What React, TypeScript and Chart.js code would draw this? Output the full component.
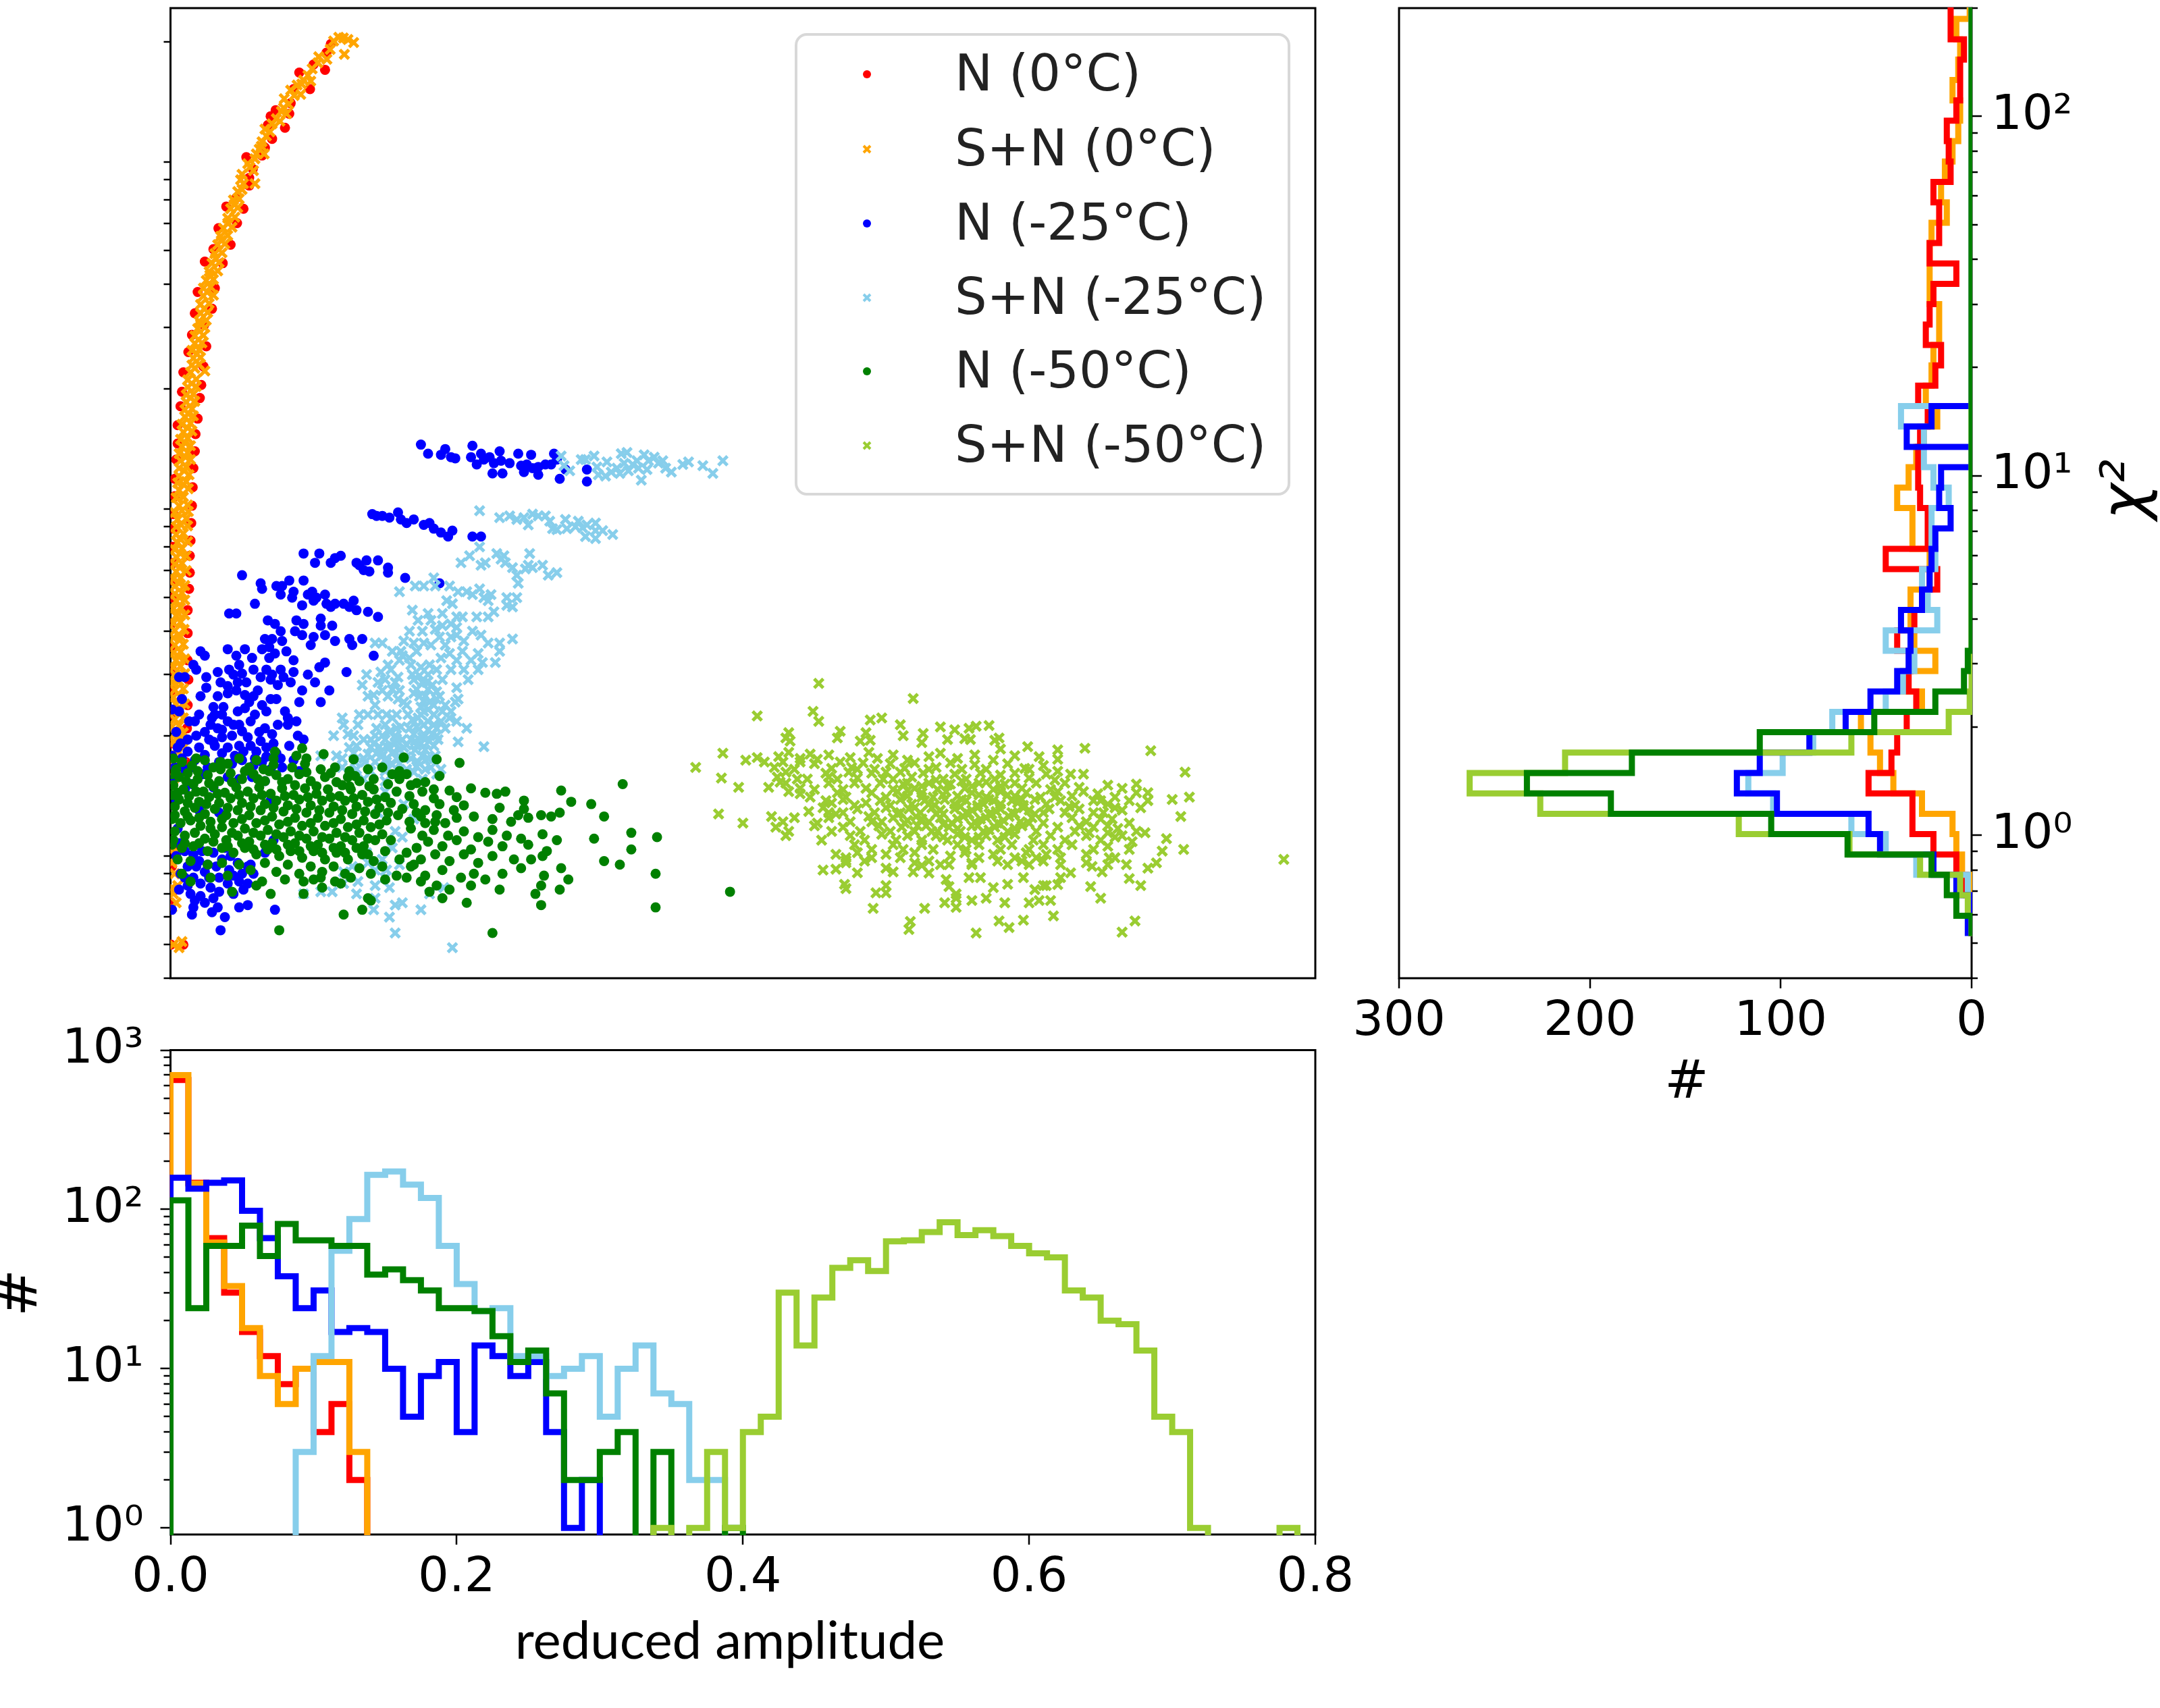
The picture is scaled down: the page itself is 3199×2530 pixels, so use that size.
import React, { useEffect, useRef } from 'react';
import { Chart, registerables } from 'chart.js';

Chart.register(...registerables);

const FONT = 'DejaVu Sans';
const RED = '#ff0000', ORANGE = '#ffa500', BLUE = '#0000ff', SKY = '#87ceeb', GREEN = '#008000', LIME = '#9acd32';
const seriesLabels = ['N (0°C)', 'S+N (0°C)', 'N (-25°C)', 'S+N (-25°C)', 'N (-50°C)', 'S+N (-50°C)'];

// ---------- scatter: [reduced amplitude, chi2] ----------
const redPoints = [[.0003,.5],[.009,.5],[.0005,.66],[.004,.72],[.001,.84],[.003,.93],[.001,1.6],[.0105,1.68],[.0005,1.9],[.0115,2.1],[.001,2.3],[.012,2.45],[.0005,2.7],[.0125,2.9],[.001,3.1],[.012,3.3],[.0008,3.6],[.012,3.95],[.0005,4.2],[.012,4.6],[.001,5],[.013,5.3],[.001,5.6],[.0135,5.9],[.002,6.3],[.0135,6.6],[.0015,7],[.014,7.3],[.002,7.9],[.0145,8.2],[.002,8.7],[.015,9.2],[.003,9.8],[.0155,10.4],[.003,11],[.016,11.8],[.004,12.5],[.017,13.2],[.005,13.9],[.0175,14.8],[.005,15.7],[.019,16.4],[.007,17.8],[.0205,18.8],[.008,19.6],[.0215,20.5],[.009,22.3],[.023,23.2],[.0125,25.5],[.025,26.5],[.015,28.6],[.0235,30.5],[.017,33],[.029,34],[.019,38],[.031,39],[.024,46.5],[.0365,46],[.03,50.5],[.042,52],[.0335,58],[.0465,60],[.039,67],[.051,66],[.046,71],[.055,77],[.055,81],[.0575,86],[.053,93],[.064,94],[.066,99],[.071,105],[.068,115],[.08,113],[.07,122],[.083,124],[.084,133],[.0735,127],[.086,146],[.0975,146],[.09,163],[.108,166],[.1,172],[.109,186],[.112,197]];
const orangePoints = [[.002,.5],[.006,.49],[.008,.51],[.001,.64],[.004,.66],[.002,.7],[.001,.73],[.005,.74],[.003,.8],[.001,.86],[.004,.9],[.002,.95],[.002,1.5],[.006,1.52],[.003,1.58],[.008,1.6],[.001,1.66],[.006,1.68],[.002,1.74],[.008,1.75],[.004,1.83],[.009,1.85],[.002,1.92],[.007,1.94],[.003,2.02],[.009,2.04],[.001,2.12],[.006,2.14],[.003,2.23],[.009,2.25],[.002,2.34],[.007,2.36],[.004,2.46],[.01,2.47],[.002,2.58],[.007,2.6],[.003,2.71],[.009,2.73],[.001,2.85],[.006,2.87],[.003,3],[.01,3.02],[.002,3.15],[.007,3.17],[.004,3.3],[.01,3.33],[.002,3.47],[.007,3.49],[.003,3.65],[.009,3.67],[.002,3.83],[.007,3.86],[.003,4.02],[.0095,4.05],[.002,4.22],[.007,4.25],[.004,4.43],[.01,4.46],[.002,4.65],[.007,4.68],[.004,4.89],[.01,4.92],[.003,5.13],[.008,5.16],[.003,5.39],[.01,5.42],[.002,5.66],[.007,5.7],[.004,5.94],[.011,5.98],[.003,6.24],[.008,6.28],[.004,6.55],[.011,6.6],[.003,6.88],[.008,6.92],[.005,7.2],[.012,7.25],[.004,7.6],[.009,7.65],[.004,8],[.012,8.05],[.005,8.4],[.011,8.45],[.003,8.8],[.0125,8.85],[.006,9.2],[.012,9.25],[.004,9.7],[.009,9.75],[.006,10.2],[.0125,10.3],[.005,10.7],[.011,10.8],[.006,11.2],[.013,11.3],[.006,11.8],[.011,11.9],[.007,12.4],[.014,12.5],[.006,13],[.012,13.1],[.008,13.6],[.014,13.7],[.007,14.3],[.012,14.4],[.009,15],[.015,15.1],[.008,15.8],[.014,15.9],[.01,16.6],[.016,16.7],[.01,17.4],[.015,17.5],[.011,18.3],[.017,18.4],[.011,19.2],[.016,19.3],[.012,20.2],[.018,20.3],[.012,21.2],[.018,21.3],[.014,22.3],[.024,22.5],[.015,23.4],[.02,23.5],[.016,24.5],[.021,24.6],[.015,25.8],[.02,25.9],[.017,27],[.022,27.1],[.017,28.4],[.023,28.5],[.019,29.8],[.024,30],[.02,31.3],[.025,31.5],[.021,33],[.026,33.2],[.021,35],[.027,35.2],[.023,37],[.03,37.2],[.023,39],[.028,39.3],[.025,41],[.03,41.3],[.027,43.5],[.033,43.7],[.029,46],[.034,46.2],[.031,49],[.036,49.3],[.033,52],[.038,52.3],[.035,55],[.04,55.3],[.037,58],[.043,58.4],[.04,62],[.045,62.4],[.042,66],[.047,66.5],[.044,70],[.048,70.5],[.047,74],[.05,75],[.051,78],[.059,78],[.05,83],[.058,85],[.054,89],[.059,92],[.062,98],[.06,95],[.064,103],[.067,107],[.066,112],[.071,116],[.074,120],[.079,129],[.081,124],[.084,145],[.0917,151],[.091,141],[.093,155],[.096,160],[.099,167],[.103,174],[.1036,181],[.1093,178],[.1116,190],[.114,201],[.1215,184],[.1176,206],[.1208,205],[.124,203],[.128,199],
[.0045,1.95],[.0055,2.4],[.0045,2.9],[.005,3.4],[.0055,3.9],[.0055,4.5],[.0065,5],[.006,5.5],[.0065,6.1],[.007,6.7],[.0065,7.4],[.0075,8.1],[.008,8.9],[.0085,9.8],[.009,10.6],[.0095,11.6],[.0105,12.7],[.01,14],[.012,15.4],[.0125,16.9],[.014,18.8],[.0148,20.7],[.017,22.9],[.0185,25.2],[.0195,27.7],[.021,30.7],[.0235,34],[.0255,38],[.0275,42.5],[.0315,47.5],[.0355,53.5],[.04,60],[.0445,68],[.049,80],[.0555,87],[.0635,100],[.0655,95],[.0695,110],[.0765,118],[.0775,126],[.0825,132],[.0795,137],[.0865,140],[.0885,150],[.098,154]];
const bluePoints = [[.175,13.8],[.18,13],[.189,12.9],[.192,13.4],[.196,12.7],[.199,12.6],[.211,13.7],[.21,12.7],[.214,12.1],[.217,13],[.219,12.5],[.223,12.7],[.226,12.2],[.23,13.2],[.231,12.4],[.237,12.2],[.243,13],[.245,12],[.249,12.1],[.252,12.9],[.253,11.8],[.257,11.9],[.257,11.3],[.268,13],[.262,12.1],[.266,12.1],[.27,12.5],[.225,11.4],[.232,11.4],[.247,11.5],[.272,11],[.291,11.7],[.291,10.8],[.276,11.7],
[.141,8.7],[.144,8.6],[.148,8.6],[.153,8.5],[.159,8.8],[.161,8.4],[.165,8.2],[.17,8.4],[.177,8.1],[.181,8.2],[.184,7.9],[.189,7.7],[.194,7.5],[.197,7.8],[.211,7.5],[.217,7.5],
[.093,6.7],[.104,6.7],[.101,6.3],[.112,6.3],[.115,6.5],[.119,6.6],[.13,6.3],[.132,6.2],[.137,6.4],[.135,6],[.139,5.95],[.145,6.4],[.152,6.1],[.152,5.9],[.164,5.7],[.188,5.5],
[.05,5.8],[.063,5.5],[.064,5.3],[.074,5.4],[.078,5.4],[.077,5.1],[.083,5.6],[.086,5.2],[.085,5],[.093,5.6],[.096,5.1],[.099,5.2],[.102,5],[.1,4.9],[.108,5.1],[.109,4.8],[.115,4.8],[.112,4.7],[.121,4.8],[.128,4.9],[.125,4.7],[.13,4.6],[.138,4.55],[.145,4.4],[.092,4.75],[.059,4.8],[.041,4.5],[.046,4.5],
[.068,4.3],[.073,4.2],[.077,4],[.088,4.3],[.093,4.2],[.087,4],[.092,3.9],[.1,3.85],[.098,3.65],[.105,4.35],[.105,4.15],[.113,4.15],[.108,3.9],[.115,3.75],[.125,3.8],[.134,3.8],[.127,3.65],[.142,3.4],
[.066,3.8],[.071,3.8],[.078,3.75],[.064,3.55],[.069,3.6],[.073,3.45],[.081,3.5],[.069,3.35],[.04,3.55],[.021,3.5],[.024,3.4],[.016,3.2],[.018,3.1],[.025,2.95],[.033,3.05],[.041,3.1],[.046,3.4],[.048,3.2],[.044,3],[.058,3.1],[.067,3.1],[.071,3],[.077,3.1],[.086,3.3],[.086,3.05],[.079,2.95],[.07,2.9],[.047,2.85],[.05,3.02],[.104,3.15],[.108,3.25],[.123,3.05],[.101,2.85],[.111,2.7],[.092,2.7],[.09,2.5],[.105,2.5],[.061,2.7],[.006,2.95],[.01,2.95],[.075,2.8],[.046,2.7],[.04,2.78],[.052,2.62],
[.021,2.6],[.033,2.6],[.04,2.65],[.055,2.5],[.064,2.45],[.07,2.55],[.008,2.55],[.006,2.35],[.001,2.38],[.02,2.3],[.031,2.3],[.036,2.3],[.047,2.35],[.052,2.4],[.059,2.3],[.067,2.35],[.013,2.2],[.017,2.2],[.028,2.15],[.033,2.1],[.04,2.2],[.048,2.15],[.066,2.1],[.075,2.15],[.082,2.15],[.088,2.2],[.082,2.25],[.089,2],[.093,1.95],[.012,1.95],[.027,1.95],[.036,1.98],[.043,2],[.054,1.98],[.063,1.93],[.083,1.87],[.077,1.72],[.02,1.85],[.031,1.87],[.04,1.85],[.048,1.87],[.056,1.87],[.024,1.76],[.036,1.78],[.045,1.75],[.059,1.72],[.012,1.8],[.051,1.8],[.03,1.92],[.06,1.8],[.008,1.72],[.017,1.7],[.067,1.74],[.074,1.78],[.086,1.7],[.001,1.75],[.003,1.62],[.01,1.6],[.026,1.62],[.043,1.66],[.058,1.64],[.07,1.6],[.09,1.58],
[.002,1.5],[.015,1.45],[.03,1.42],[.048,1.5],[.066,1.48],[.004,1.3],[.02,1.22],[.034,1.2],[.07,1.3],[.005,1.08],[.01,.93],[.016,.91],[.012,.84],[.02,.87],[.024,.81],[.032,.84],[.036,.88],[.041,.82],[.047,.86],[.054,.84],[.044,.79],[.016,.78],[.012,.74],[.021,.75],[.028,.73],[.04,.75],[.048,.76],[.054,.75],[.056,.85],[.017,.67],[.024,.66],[.016,.64],[.048,.64],[.054,.65],[.033,.64],[.029,.62],[.015,.61],[.038,.6],[.073,.63],[.035,.55],[.001,.63],[.027,.78],[.034,.71],[.044,.7],[.014,.7],[.007,.8],[.004,.9],[.058,.8],[.05,.8],[.022,.93],[.03,.92],[.042,.9],[.006,.98],[.066,.92],[.072,1.0],
[.029,2.25],[.037,2.42],[.044,2.15],[.056,2.2],[.062,2.05],[.071,2.02],[.024,2.05],[.018,2],[.036,2.08],[.05,2.06],[.058,2.6],[.03,2.42],[.025,2.75],[.035,2.85],[.053,2.85],[.063,2.95],[.057,3.35],[.052,3.55],[.084,2.85],[.096,3],[.074,2.55],[.08,2.35],[.015,1.62],[.034,1.68],[.05,1.7],[.064,1.68],[.078,1.62],[.023,1.55],[.04,1.52],[.057,1.52],[.01,1.4],[.004,2.05],[.007,1.9],[.005,1.85],[.067,1.85],[.072,1.9],[.038,.95],[.026,.85],[.018,.84],[.01,.78],[.034,.78],[.051,.72],[.006,.72],[.021,.69],[.03,.68]];
const skyPoints = [[.273,12.8],[.275,12],[.279,11.6],[.287,12.5],[.29,12.5],[.296,12.8],[.298,11.9],[.305,12.3],[.299,11.3],[.304,11.2],[.312,11.8],[.315,13],[.319,13.1],[.314,11.4],[.32,11.6],[.326,12.4],[.327,11.8],[.329,10.9],[.331,12.9],[.334,12.4],[.338,12.7],[.341,12.2],[.344,12.4],[.346,11.8],[.35,11.5],[.358,12.1],[.362,12.3],[.372,12],[.379,11.4],[.386,12.4],[.317,12.2],[.308,11.5],[.323,12.1],[.333,11.7],
[.216,8.9],[.23,8.5],[.237,8.6],[.242,8.4],[.247,8.5],[.25,8.1],[.253,8.7],[.257,8.6],[.262,8.6],[.265,8.3],[.267,7.9],[.276,8.4],[.277,7.9],[.283,8],[.285,8.3],[.291,8.1],[.297,8.2],[.297,7.8],[.29,7.5],[.297,7.4],[.302,7.8],[.309,7.6],[.27,7.85],[.288,7.95],
[.216,7],[.209,6.6],[.203,6.3],[.217,6.2],[.22,6.3],[.228,6.7],[.233,6.6],[.234,6.3],[.239,6.1],[.242,5.8],[.243,5.5],[.251,6.7],[.25,6.2],[.253,6.1],[.26,6.2],[.264,5.8],[.27,5.9],[.231,6.45],[.248,6.05],
[.184,5.7],[.171,5.4],[.177,5.4],[.185,5.4],[.195,5.4],[.16,5.2],[.201,5.2],[.207,5.2],[.211,5.1],[.216,5.3],[.219,5],[.222,4.9],[.224,5.1],[.235,5],[.242,5],[.193,4.9],[.197,4.8],[.235,4.75],[.239,4.7],[.169,4.6],[.18,4.5],[.19,4.5],[.226,4.55],[.222,4.4],[.214,4.4],[.2,4.4],[.204,4.4],[.196,4.2],[.2,4.1],[.173,4.3],[.182,4.3],[.176,4],[.167,4],[.211,4],[.217,3.9],[.222,3.7],[.23,3.7],[.239,3.8],[.188,3.85],[.196,3.85],[.192,3.65],[.143,3.7],[.148,3.7],[.163,3.75],[.17,3.7],[.177,3.7],[.182,3.65],[.155,3.5],[.161,3.5],[.195,3.45],[.204,3.5],[.215,3.45],[.23,3.5],[.218,3.25],[.227,3.25],[.167,3.35],[.181,3.2],[.189,3.35],[.196,3.1],[.205,3.1],[.215,3.1],[.208,2.9],[.154,3.1],[.159,2.95],[.169,3],[.176,2.85],[.137,3],[.15,2.9],[.157,2.85],[.2,2.75],[.138,2.6],[.148,2.7],[.159,2.55],[.163,2.5],[.174,2.6],[.181,2.5],[.188,2.6],[.199,2.5],[.201,2.55],[.177,2.35],[.184,2.3],[.19,2.35],[.196,2.35],[.132,2.3],[.138,2.3],[.145,2.3],[.151,2.3],[.158,2.3],[.166,2.3],[.12,2.25],[.121,2.15],[.131,2.15],[.144,2.1],[.153,2.05],[.158,2.1],[.167,2.1],[.177,2.15],[.184,2.15],[.192,2.1],[.2,2.2],[.207,2.1],[.114,2],[.128,2],[.14,1.95],[.148,2],[.157,2],[.162,1.95],[.171,1.93],[.178,2],[.186,2],[.201,1.92],[.13,1.87],[.138,1.77],[.146,1.86],[.151,1.86],[.16,1.82],[.171,1.82],[.178,1.82],[.184,1.87],[.219,1.86],[.105,1.75],[.116,1.75],[.135,1.72],[.143,1.68],[.151,1.68],[.16,1.66],[.173,1.68],[.18,1.72],[.189,1.6],[.184,2.45],[.175,2.42],[.18,2.2],[.187,1.95],[.155,1.78],[.165,1.74],[.176,1.75],[.148,1.75],[.14,1.85],[.15,1.95],[.165,1.88],[.175,1.9],[.12,1.62],[.13,1.6],[.14,1.58],[.15,1.58],[.16,1.55],[.17,1.57],[.178,1.6],[.186,1.55],[.155,2.25],[.165,2.45],[.17,2.65],[.18,2.72],[.17,2.9],[.19,2.9],[.16,3.3],[.18,3],
[.15,1.38],[.163,1.27],[.157,1.06],[.162,1.02],[.145,1.2],[.17,1.15],[.127,.84],[.121,.81],[.138,.86],[.148,.88],[.143,.82],[.151,.82],[.131,.76],[.143,.74],[.153,.73],[.105,.71],[.113,.71],[.093,.7],[.13,.7],[.143,.68],[.142,.63],[.157,.65],[.162,.66],[.153,.6],[.175,.63],[.157,.54],[.197,.49],[.181,.7],[.191,.73],[.121,.75],[.15,.78],[.16,.85],[.137,.92],[.155,.95],
[.186,3.1],[.175,3.15],[.183,2.8],[.186,2.68],[.177,2.52],[.192,2.45],[.173,2.25],[.169,2.22],[.189,2.2],[.195,2.25],[.183,2.02],[.17,2.02],[.161,2.12],[.15,2.15],[.143,2],[.135,1.95],[.163,1.85],[.157,1.9],[.168,1.95],[.178,1.7],[.185,1.75],[.144,1.78],[.128,1.78],[.155,1.65],[.165,1.6],[.172,1.63],[.158,1.72],[.15,1.48],[.176,1.5],[.135,1.5],[.125,1.85],[.168,3.2],[.162,3.4],[.2,3.9],[.185,4.05],[.19,4.15],[.205,3.75],[.2,3.3],[.21,3.3],[.172,3.5],[.145,2.85],[.152,2.6],[.143,2.45],[.16,2.7],
[.151,1.72],[.147,1.8],[.16,1.74],[.153,1.85],[.158,1.96],[.172,1.87],[.176,1.98],[.181,1.93],[.172,2.12],[.18,2.08],[.186,2.1],[.175,2.3],[.18,2.38],[.186,2.55],[.178,2.6],[.172,2.72],[.179,2.85],[.174,2.98],[.155,2.72],[.142,2.62],[.134,2.8],[.152,3.2],[.147,3.05],[.124,2.02],[.168,1.72],[.142,1.9],[.136,1.68],[.15,1.62],[.182,1.62],[.129,1.68],[.12,1.72]];
const greenPoints = [[.073,1.8],[.092,1.84],[.107,1.77],[.128,1.71],[.163,1.73],[.186,1.71],[.202,1.67],[.188,1.53],[.316,1.45],[.273,1.39],[.28,1.29],[.294,1.27],[.303,1.17],[.21,1.41],[.22,1.37],[.228,1.36],[.234,1.38],[.247,1.3],[.247,1.23],[.2,1.33],[.188,1.27],[.205,1.26],[.23,1.24],[.243,1.18],[.25,1.16],[.259,1.18],[.266,1.17],[.272,1.2],[.322,1.05],[.34,1.02],[.296,1.01],[.322,.94],[.303,.87],[.314,.85],[.339,.8],[.339,.64],[.391,.71],[.273,.83],[.278,.77],[.272,.72],[.261,.79],[.259,.74],[.255,.7],[.259,.65],[.225,.54],[.207,.66],[.076,.55],[.121,.61],[.134,.63],[.138,.68],[.14,.67],[.07,.7],[.093,.7],[.106,.73],[.119,.75],[.1,.77],[.093,.76],[.06,.74],[.043,.71],[.19,.68],[.195,.72],[.181,.71],
[.002,1.72],[.008,1.68],[.015,1.64],[.024,1.7],[.03,1.62],[.04,1.66],[.048,1.72],[.055,1.62],[.065,1.6],[.072,1.65],[.085,1.62],[.094,1.66],[.105,1.6],[.115,1.62],[.125,1.58],[.138,1.6],[.148,1.62],[.16,1.58],
[.001,1.55],[.006,1.52],[.012,1.56],[.019,1.5],[.026,1.54],[.034,1.48],[.042,1.56],[.05,1.5],[.058,1.55],[.066,1.48],[.074,1.54],[.082,1.5],[.09,1.55],[.098,1.48],[.108,1.52],[.116,1.47],[.124,1.52],[.132,1.48],[.142,1.5],[.152,1.45],[.16,1.5],[.168,1.44],[.178,1.47],
[.002,1.44],[.009,1.4],[.016,1.45],[.023,1.38],[.03,1.43],[.038,1.37],[.046,1.42],[.054,1.38],[.062,1.42],[.07,1.36],[.078,1.41],[.086,1.35],[.094,1.41],[.102,1.36],[.11,1.4],[.118,1.34],[.126,1.4],[.134,1.35],[.142,1.4],[.15,1.33],[.158,1.38],[.167,1.34],[.176,1.38],[.184,1.32],[.195,1.39],
[.001,1.35],[.006,1.31],[.013,1.34],[.02,1.29],[.027,1.33],[.034,1.28],[.042,1.32],[.05,1.28],[.058,1.32],[.066,1.27],[.074,1.3],[.082,1.26],[.09,1.31],[.098,1.26],[.106,1.3],[.114,1.25],[.122,1.3],[.13,1.25],[.138,1.29],[.146,1.24],[.154,1.28],[.162,1.23],[.17,1.27],[.178,1.22],[.198,1.22],
[.003,1.25],[.01,1.21],[.017,1.24],[.024,1.19],[.031,1.23],[.039,1.18],[.047,1.22],[.055,1.18],[.063,1.22],[.071,1.17],[.079,1.21],[.087,1.16],[.095,1.2],[.103,1.16],[.111,1.2],[.119,1.15],[.127,1.19],[.135,1.14],[.143,1.19],[.151,1.14],[.159,1.18],[.167,1.13],[.175,1.17],[.185,1.13],[.2,1.16],[.212,1.17],[.225,1.15],[.238,1.13],
[.001,1.15],[.007,1.12],[.014,1.14],[.021,1.1],[.028,1.13],[.036,1.09],[.044,1.12],[.052,1.08],[.06,1.12],[.068,1.07],[.076,1.11],[.084,1.06],[.092,1.1],[.1,1.06],[.108,1.1],[.116,1.05],[.124,1.09],[.132,1.05],[.14,1.09],[.148,1.04],[.168,1.08],[.176,1.03],[.184,1.07],[.194,1.03],[.205,1.06],[.215,1.02],[.225,1.07],[.235,1.03],[.245,1.01],[.26,1.04],
[.003,1.06],[.01,1.03],[.017,1.05],[.024,1.01],[.031,1.04],[.039,1],[.047,1.03],[.055,.99],[.063,1.03],[.071,.98],[.079,1.02],[.087,.98],[.095,1.01],[.103,.97],[.111,1.01],[.119,.96],[.127,1],[.135,.96],[.143,1],[.172,.95],[.18,.99],[.19,.96],[.2,1],[.21,.94],[.222,.99],[.232,.96],[.25,.97],[.263,.93],[.27,1],
[.001,.97],[.008,.95],[.016,.96],[.026,.93],[.036,.95],[.044,.92],[.052,.95],[.06,.91],[.068,.94],[.076,.9],[.084,.93],[.092,.89],[.1,.93],[.108,.88],[.116,.92],[.124,.88],[.134,.91],[.142,.87],[.165,.92],[.175,.88],[.185,.91],[.195,.87],[.205,.91],[.215,.86],[.225,.9],[.24,.88],[.252,.88],[.26,.9],
[.005,.88],[.014,.87],[.026,.85],[.036,.86],[.048,.85],[.056,.82],[.066,.86],[.074,.81],[.082,.85],[.09,.8],[.098,.84],[.106,.81],[.114,.84],[.122,.8],[.132,.83],[.14,.8],[.148,.84],[.158,.79],[.168,.84],[.178,.79],[.19,.82],[.203,.78],[.212,.8],[.22,.77],[.232,.8],[.245,.83],
[.008,.8],[.014,.76],[.028,.78],[.04,.79],[.064,.76],[.08,.77],[.105,.78],[.115,.76],[.126,.78],[.15,.77],[.165,.78],[.175,.76],[.186,.74],[.21,.74],[.23,.72],
[.004,1.6],[.011,1.48],[.019,1.58],[.027,1.46],[.035,1.6],[.043,1.47],[.052,1.58],[.061,1.5],[.069,1.58],[.078,1.47],[.087,1.44],[.095,1.57],[.102,1.43],[.112,1.56],[.12,1.44],[.129,1.53],[.005,1.37],[.012,1.28],[.018,1.38],[.025,1.27],[.033,1.36],[.04,1.24],[.048,1.35],[.056,1.25],[.064,1.35],[.072,1.24],[.08,1.34],[.088,1.23],[.096,1.33],[.104,1.22],[.112,1.33],[.12,1.22],[.128,1.32],[.136,1.21],[.144,1.31],[.152,1.2],[.003,1.18],[.012,1.17],[.02,1.16],[.028,1.08],[.036,1.15],[.043,1.05],[.05,1.15],[.058,1.05],[.066,1.14],[.074,1.04],[.082,1.13],[.09,1.03],[.098,1.12],[.106,1.02],[.114,1.12],[.122,1.02],[.13,1.11],[.138,1.01],[.146,1.11],[.154,1],[.002,1],[.01,.98],[.02,.98],[.03,.99],[.04,.96],[.05,.98],[.058,.94],[.066,.97],[.074,.94],[.082,.97],[.09,.93],[.098,.96],[.106,.92],[.114,.95],[.122,.92],[.13,.95],[.138,.91],[.15,.93],[.16,.88],[.17,.85],[.178,1.12],[.186,1.18],[.192,1.12],[.172,1.2],[.184,1.4],[.172,1.46],[.165,1.55],[.155,1.55],[.139,1.43],[.125,1.43],[.072,1.72],[.06,1.7],[.035,1.68],[.018,1.72],[.095,1.72],[.088,1.75]];
const limePoints = [[.367,1.62],[.386,1.78],[.385,1.51],[.397,1.42],[.41,2.28],[.402,1.7],[.41,1.73],[.415,1.68],[.383,1.19],[.4,1.12],[.453,2.83],[.449,2.35],[.453,2.2],[.519,2.56],[.489,2.22],[.497,2.25],[.51,2.15],[.468,2.06],[.432,2.04],[.43,1.97],[.433,1.93],[.486,2.04],[.466,1.97],[.482,1.93],[.489,1.94],[.526,2.03],[.512,2],[.525,1.91],[.538,2.12],[.548,2.08],[.558,2.1],[.563,2.13],[.572,2.14],[.543,1.95],[.555,1.96],[.559,1.95],[.576,1.94],[.579,1.97],[.58,1.83],[.599,1.86],[.62,1.82],[.639,1.84],[.685,1.81],[.607,1.74],[.62,1.71],[.709,1.57],[.629,1.55],[.638,1.55],
[.456,.82],[.465,.825],[.48,.805],[.472,.873],[.5,.83],[.505,.81],[.519,.81],[.525,.845],[.538,.85],[.544,.85],[.56,.85],[.53,.804],[.558,.78],[.566,.78],[.596,.78],[.622,.78],[.542,.77],[.471,.746],[.472,.725],[.5,.74],[.493,.705],[.5,.705],[.544,.735],[.549,.7],[.549,.68],[.575,.73],[.585,.746],[.56,.67],[.57,.68],[.583,.66],[.6,.66],[.607,.67],[.615,.67],[.541,.66],[.549,.64],[.527,.636],[.491,.636],[.617,.605],[.65,.68],[.643,.735],[.67,.775],[.678,.74],[.517,.583],[.516,.553],[.579,.585],[.586,.56],[.596,.588],[.563,.54],[.665,.543],[.674,.585],[.778,.88],[.708,.94],[.696,1.01],[.712,1.33],[.7,1.31],[.706,1.17],[.683,1.37],[.683,1.3],[.678,1.24],[.681,1.05],[.693,.93],[.689,.86],[.683,.83],[.668,.85],[.656,.89],[.644,.84],[.651,.81],[.629,.805],[.61,.74],[.604,.72],[.612,.74],[.62,.745],
[.425,1.74],[.432,1.79],[.44,1.72],[.447,1.77],[.452,1.71],[.46,1.76],[.475,1.73],[.488,1.79],[.494,1.72],[.505,1.76],[.515,1.7],[.53,1.74],[.538,1.78],[.55,1.72],[.562,1.76],[.575,1.7],[.59,1.75],
[.422,1.62],[.428,1.68],[.436,1.6],[.45,1.66],[.462,1.61],[.468,1.68],[.476,1.62],[.484,1.67],[.492,1.6],[.503,1.66],[.513,1.61],[.52,1.67],[.535,1.62],[.545,1.67],[.553,1.6],[.562,1.65],[.57,1.6],[.585,1.66],[.597,1.61],[.61,1.64],
[.424,1.52],[.43,1.57],[.438,1.5],[.458,1.56],[.466,1.5],[.474,1.57],[.48,1.51],[.49,1.56],[.498,1.5],[.51,1.57],[.518,1.52],[.526,1.56],[.54,1.5],[.548,1.55],[.556,1.5],[.566,1.56],[.576,1.5],[.59,1.56],[.6,1.51],[.612,1.55],[.618,1.49],
[.418,1.42],[.426,1.47],[.44,1.41],[.46,1.46],[.47,1.4],[.478,1.46],[.486,1.41],[.496,1.46],[.505,1.4],[.512,1.45],[.52,1.41],[.53,1.46],[.536,1.4],[.545,1.45],[.555,1.41],[.565,1.46],[.575,1.4],[.583,1.45],[.595,1.41],[.605,1.46],[.615,1.4],[.625,1.46],[.635,1.42],[.655,1.44],[.665,1.41],[.675,1.45],
[.44,1.36],[.447,1.33],[.466,1.37],[.472,1.33],[.49,1.37],[.5,1.33],[.508,1.38],[.515,1.34],[.525,1.37],[.533,1.33],[.542,1.38],[.55,1.34],[.56,1.37],[.57,1.33],[.58,1.38],[.59,1.34],[.598,1.37],[.608,1.33],[.62,1.38],[.63,1.34],[.648,1.36],[.66,1.33],[.675,1.37],
[.462,1.28],[.47,1.31],[.478,1.26],[.496,1.3],[.503,1.26],[.51,1.31],[.518,1.27],[.527,1.3],[.534,1.26],[.541,1.31],[.548,1.27],[.556,1.3],[.564,1.26],[.572,1.31],[.58,1.27],[.588,1.3],[.596,1.26],[.604,1.31],[.612,1.27],[.622,1.3],[.632,1.26],[.645,1.3],[.655,1.27],[.66,1.24],
[.446,1.21],[.456,1.24],[.465,1.19],[.48,1.23],[.492,1.2],[.5,1.24],[.508,1.19],[.516,1.23],[.524,1.2],[.532,1.24],[.54,1.19],[.548,1.23],[.556,1.2],[.564,1.24],[.572,1.19],[.58,1.23],[.588,1.2],[.596,1.24],[.604,1.19],[.614,1.23],[.625,1.2],[.635,1.23],[.652,1.2],[.665,1.22],
[.42,1.17],[.428,1.13],[.436,1.16],[.452,1.12],[.46,1.16],[.475,1.13],[.488,1.17],[.497,1.13],[.505,1.16],[.513,1.12],[.521,1.17],[.53,1.13],[.538,1.16],[.546,1.12],[.554,1.17],[.562,1.13],[.57,1.16],[.578,1.12],[.586,1.17],[.594,1.13],[.602,1.16],[.61,1.12],[.63,1.16],[.64,1.13],[.658,1.15],[.67,1.12],
[.423,1.09],[.432,1.06],[.45,1.1],[.462,1.06],[.47,1.09],[.482,1.06],[.495,1.1],[.503,1.06],[.511,1.09],[.52,1.06],[.528,1.1],[.536,1.06],[.544,1.09],[.552,1.06],[.56,1.1],[.568,1.06],[.576,1.09],[.585,1.06],[.595,1.1],[.605,1.06],[.62,1.09],[.632,1.06],[.645,1.09],[.655,1.05],[.662,1.08],[.675,1.06],
[.43,1.03],[.455,1],[.475,1.03],[.485,1],[.497,1.04],[.507,1],[.515,1.03],[.525,1],[.535,1.03],[.543,1],[.55,1.04],[.56,1],[.57,1.03],[.578,1],[.59,1.04],[.603,1],[.615,1.03],[.625,1],[.64,1.03],[.65,1],[.66,1.02],[.672,.99],
[.478,.97],[.49,.94],[.505,.97],[.512,.94],[.525,.97],[.533,.94],[.55,.97],[.556,.94],[.565,.97],[.58,.94],[.588,.97],[.6,.94],[.61,.97],[.62,.94],[.63,.97],[.645,.94],[.655,.96],[.67,.94],
[.465,.91],[.472,.89],[.48,.92],[.49,.89],[.5,.91],[.51,.89],[.52,.92],[.545,.9],[.555,.92],[.565,.89],[.575,.91],[.59,.89],[.598,.92],[.605,.89],[.612,.91],[.622,.89],[.64,.91],[.66,.89],
[.472,.86],[.485,.87],[.52,.86],[.53,.87],[.56,.86],[.578,.87],[.585,.85],[.595,.87],[.6,.85],[.61,.87],[.622,.85],[.64,.86],[.655,.85],
[.505,1.5],[.515,1.46],[.525,1.43],[.535,1.49],[.543,1.44],[.553,1.48],[.56,1.43],[.57,1.47],[.58,1.43],[.59,1.46],[.515,1.39],[.525,1.33],[.54,1.35],[.553,1.31],[.565,1.35],[.575,1.3],[.585,1.35],[.595,1.31],[.52,1.24],[.53,1.27],[.538,1.22],[.552,1.25],[.56,1.22],[.568,1.27],[.577,1.21],[.592,1.28],[.6,1.22],[.51,1.2],[.525,1.15],[.535,1.19],[.55,1.15],[.558,1.19],[.566,1.15],[.574,1.19],[.582,1.14],[.59,1.19],[.515,1.14],[.522,1.1],[.532,1.06],[.54,1.11],[.55,1.08],[.564,1.1],[.572,1.07],[.58,1.11],[.59,1.08],[.6,1.12],[.54,1.02],[.555,1.02],[.565,1.02],[.583,1.02],[.61,1.2],[.618,1.33],[.628,1.25],[.638,1.38],[.47,1.2],[.486,1.28],[.49,1.13],[.458,1.3],[.45,1.4],[.445,1.5],[.432,1.38],[.46,1.2],[.635,1.1],[.65,1.15],[.645,1.2],[.642,1.05],[.655,1.1],[.665,1.03],[.48,1.6],[.5,1.57],[.53,1.6],[.58,1.54],[.6,1.6],[.62,1.58],[.44,1.68],[.43,1.46],[.46,1.52],[.65,1.3],[.67,1.3]];

// ---------- amplitude histogram (bottom panel) ----------
const ampBinEdges = [0,.0125,.025,.0375,.05,.0625,.075,.0875,.1,.1125,.125,.1375,.15,.1625,.175,.1875,.2,.2125,.225,.2375,.25,.2625,.275,.2875,.3,.3125,.325,.3375,.35,.3625,.375,.3875,.4,.4125,.425,.4375,.45,.4625,.475,.4875,.5,.5125,.525,.5375,.55,.5625,.575,.5875,.6,.6125,.625,.6375,.65,.6625,.675,.6875,.7,.7125,.725,.7375,.75,.7625,.775,.7875,.8];
const ampRed = [650,147,66,30,17,12,8,10,4,6,2];
const ampOrange = [697,145,62,33,18,9,6,10,11,11,3];
const ampBlue = [158,135,147,152,98,66,38,24,31,17,18,17,10,5,9,11,4,14,12,9,11,4,1,2];
const ampSky = [0,0,0,0,0,0,0,3,12,55,87,165,173,143,118,59,34,23,24,12,12,9,10,12,5,10,14,7,6,2,2];
const ampGreen = [114,24,59,59,79,51,81,64,64,59,59,39,42,36,31,24,24,23,16,11,13,7,2,2,3,4,0,3,0,0,0,1];
const ampLime = [0,0,0,0,0,0,0,0,0,0,0,0,0,0,0,0,0,0,0,0,0,0,0,0,0,0,0,1,0,1,3,1,4,5,30,14,28,43,48,41,63,64,72,83,69,74,68,59,53,50,31,28,20,19,13,5,4,1,0,0,0,0,1,0];

// ---------- chi2 histogram (right panel) ----------
const chiBinEdges = [.524,.597,.681,.776,.884,1.007,1.147,1.307,1.49,1.697,1.934,2.204,2.511,2.861,3.26,3.715,4.233,4.824,5.497,6.263,7.137,8.132,9.266,10.56,12.03,13.71,15.62,17.8,20.28,23.11,26.33,30.01,34.19,38.96,44.39,50.58,57.64,65.68,74.84,85.27,97.2,110.7,126.2,143.8,163.8,186.6,212.7];
const chiRed = [0,1,3,8,20,31,31,54,42,39,34,29,33,32,39,30,26,18,45,23,23,27,28,28,27,23,28,19,16,24,22,20,8,22,17,17,20,11,12,13,8,6,6,4,11,11];
const chiOrange = [0,0,1,5,8,10,26,41,48,53,58,26,36,19,30,32,32,22,22,31,31,39,33,29,25,18,24,21,20,17,17,22,22,22,21,13,16,14,10,7,6,10,7,6,8,1];
const chiBlue = [2,1,8,20,48,54,102,123,111,85,66,53,39,33,32,37,26,22,21,19,11,17,16,0,34,21];
const chiSky = [0,1,2,29,45,63,104,117,99,83,73,45,36,30,45,18,23,26,19,21,21,12,20,25,25,37];
const chiGreen = [0,8,13,21,65,105,189,233,178,111,51,19,4,2];
const chiLime = [0,2,6,27,64,122,226,263,213,63,12,1];

// ---------- axes ----------
const scatterLogTicks = [.4,.5,.6,.7,.8,.9,2,3,4,5,6,7,8,9,20,30,40,50,60,70,80,90,200];
const bottomLogTicks = [1,2,3,4,5,6,7,8,9,10,20,30,40,50,60,70,80,90,100,200,300,400,500,600,700,800,900,1000];
const rightLogTicks = [.4,.5,.6,.7,.8,.9,1,2,3,4,5,6,7,8,9,10,20,30,40,50,60,70,80,90,100,200];
const ampTicks = [0,.2,.4,.6,.8];
const countTicks = [0,100,200,300];
const decadeLabels: Record<number, string> = { 1: '10⁰', 10: '10¹', 100: '10²', 1000: '10³' };

const BELOW_AXIS = 0.5;
const tickFont = { family: FONT, size: 72 };

const isDecade = (v: number) => Math.abs(Math.log10(v) - Math.round(Math.log10(v))) < 1e-6;

function ampSteps(counts: number[]) {
  const val = (i: number) => { const c = counts[i] || 0; return c > 0 ? c : BELOW_AXIS; };
  const pts: { x: number; y: number }[] = [{ x: ampBinEdges[0], y: BELOW_AXIS }];
  for (let i = 0; i < ampBinEdges.length - 1; i++) pts.push({ x: ampBinEdges[i], y: val(i) });
  pts.push({ x: ampBinEdges[ampBinEdges.length - 1], y: val(ampBinEdges.length - 2) });
  return pts;
}
function chiSteps(counts: number[]) {
  const pts: { x: number; y: number }[] = [];
  for (let i = 0; i < chiBinEdges.length - 1; i++) pts.push({ x: counts[i] || 0, y: chiBinEdges[i] });
  pts.push({ x: counts[chiBinEdges.length - 2] || 0, y: chiBinEdges[chiBinEdges.length - 1] });
  return pts;
}

type Txt = { text: string; x: number; y: number; font: string; rot?: number };

function marks(cfg: { major: number; minor: number; side: 'left' | 'right'; xLen: number; texts?: Txt[] }) {
  return {
    id: 'marks',
    beforeDatasetsDraw(chart: any) {
      const { ctx, chartArea: a, scales } = chart;
      ctx.save();
      ctx.strokeStyle = '#000';
      ctx.lineWidth = 3;
      ctx.strokeRect(a.left, a.top, a.right - a.left, a.bottom - a.top);
      ctx.lineWidth = 2.5;
      ctx.beginPath();
      for (const t of scales.y.ticks) {
        const p = Math.round(scales.y.getPixelForValue(t.value));
        const len = isDecade(t.value) ? cfg.major : cfg.minor;
        const x0 = cfg.side === 'left' ? a.left : a.right;
        ctx.moveTo(x0, p);
        ctx.lineTo(cfg.side === 'left' ? x0 - len : x0 + len, p);
      }
      if (cfg.xLen > 0) {
        for (const t of scales.x.ticks) {
          const p = Math.round(scales.x.getPixelForValue(t.value));
          ctx.moveTo(p, a.bottom);
          ctx.lineTo(p, a.bottom + cfg.xLen);
        }
      }
      ctx.stroke();
      ctx.restore();
    },
    afterDraw(chart: any) {
      const { ctx } = chart;
      for (const t of cfg.texts || []) {
        ctx.save();
        ctx.translate(t.x, t.y);
        if (t.rot) ctx.rotate(t.rot);
        ctx.font = t.font;
        ctx.fillStyle = '#000';
        ctx.textAlign = 'center';
        ctx.textBaseline = 'middle';
        ctx.fillText(t.text, 0, 0);
        ctx.restore();
      }
    },
  };
}

const legendBox = {
  id: 'legendBox',
  afterDraw(chart: any) {
    const { ctx } = chart;
    const ox = 200;
    const ys = [110, 221, 331, 441, 550, 660];
    ctx.save();
    ctx.beginPath();
    ctx.roundRect(1179 - ox, 51, 730, 681, 16);
    ctx.fillStyle = 'rgba(255,255,255,0.8)';
    ctx.fill();
    ctx.lineWidth = 4;
    ctx.strokeStyle = '#d8d8d8';
    ctx.stroke();
    ctx.font = `75px "${FONT}"`;
    ctx.textBaseline = 'middle';
    ctx.textAlign = 'left';
    chart.data.datasets.forEach((d: any, i: number) => {
      const x = 1284 - ox, y = ys[i];
      ctx.strokeStyle = d.pointBorderColor;
      ctx.fillStyle = d.pointBackgroundColor;
      if (d.pointStyle === 'circle') {
        ctx.beginPath();
        ctx.arc(x, y, 6, 0, Math.PI * 2);
        ctx.fill();
      } else {
        ctx.lineWidth = 4;
        ctx.beginPath();
        ctx.moveTo(x - 5, y - 5); ctx.lineTo(x + 5, y + 5);
        ctx.moveTo(x - 5, y + 5); ctx.lineTo(x + 5, y - 5);
        ctx.stroke();
      }
      ctx.fillStyle = '#222';
      ctx.fillText(d.label, 1414 - ox, y + 5);
    });
    ctx.restore();
  },
};

const setTicks = (vals: number[]) => (scale: any) => { scale.ticks = vals.map((v) => ({ value: v })); };
const noPad = (s: any) => { s.paddingLeft = 0; s.paddingRight = 0; s.paddingTop = 0; s.paddingBottom = 0; };
const fixH = (h: number) => (s: any) => { s.height = h; noPad(s); };
const fixW = (w: number) => (s: any) => { s.width = w; noPad(s); };
const decadeLabel = (v: any) => decadeLabels[Number(v)] ?? '';

const base = {
  responsive: false,
  animation: false as const,
  devicePixelRatio: 1,
  events: [] as string[],
};
const quiet = { legend: { display: false }, tooltip: { enabled: false }, title: { display: false } };

function scatterSet(label: string, data: number[][], color: string, style: string, order: number) {
  const cross = style !== 'circle';
  return {
    label,
    data: data.map(([x, y]) => ({ x, y })),
    pointStyle: style,
    pointRadius: cross ? 9.5 : 7.5,
    pointBorderWidth: cross ? 5 : 0,
    pointBackgroundColor: color,
    pointBorderColor: color,
    showLine: false,
    order,
  };
}
function stepSet(label: string, data: { x: number; y: number }[], color: string, order: number, stepped: any) {
  return {
    label, data, borderColor: color, backgroundColor: color,
    borderWidth: 9, pointRadius: 0, showLine: true, stepped,
    borderJoinStyle: 'miter' as const, fill: false, order, clip: 1,
  };
}

function makeMain(c: HTMLCanvasElement) {
  return new Chart(c, {
    type: 'scatter',
    data: {
      datasets: [
        scatterSet(seriesLabels[0], redPoints, RED, 'circle', 6),
        scatterSet(seriesLabels[1], orangePoints, ORANGE, 'crossRot', 5),
        scatterSet(seriesLabels[2], bluePoints, BLUE, 'circle', 4),
        scatterSet(seriesLabels[3], skyPoints, SKY, 'crossRot', 3),
        scatterSet(seriesLabels[4], greenPoints, GREEN, 'circle', 2),
        scatterSet(seriesLabels[5], limePoints, LIME, 'crossRot', 1),
      ] as any,
    },
    options: {
      ...base,
      layout: { autoPadding: false, padding: { top: 12, right: 52, left: 0, bottom: 0 } },
      plugins: quiet,
      scales: {
        x: {
          type: 'linear', min: 0, max: 0.8, afterFit: fixH(51),
          grid: { display: false }, border: { display: false }, ticks: { display: false },
        },
        y: {
          type: 'logarithmic', min: 0.4, max: 250, afterFit: fixW(52.5), afterBuildTicks: setTicks(scatterLogTicks),
          grid: { display: false }, border: { display: false }, ticks: { display: false },
        },
      },
    } as any,
    plugins: [marks({ major: 10, minor: 10, side: 'left', xLen: 0 }), legendBox],
  } as any);
}

function makeBottom(c: HTMLCanvasElement) {
  const offsetTop = 1500;
  return new Chart(c, {
    type: 'scatter',
    data: {
      datasets: [
        stepSet(seriesLabels[0], ampSteps(ampRed), RED, 6, true),
        stepSet(seriesLabels[1], ampSteps(ampOrange), ORANGE, 5, true),
        stepSet(seriesLabels[2], ampSteps(ampBlue), BLUE, 4, true),
        stepSet(seriesLabels[3], ampSteps(ampSky), SKY, 3, true),
        stepSet(seriesLabels[4], ampSteps(ampGreen), GREEN, 2, true),
        stepSet(seriesLabels[5], ampSteps(ampLime), LIME, 1, true),
      ] as any,
    },
    options: {
      ...base,
      layout: { autoPadding: false, padding: { top: 55.5, right: 52, left: 0, bottom: 0 } },
      plugins: quiet,
      scales: {
        x: {
          type: 'linear', min: 0, max: 0.8, afterFit: fixH(227), afterBuildTicks: setTicks(ampTicks),
          grid: { display: false }, border: { display: false },
          ticks: { font: tickFont, color: '#000', padding: 14, autoSkip: false, maxRotation: 0, callback: (v: any) => Number(v).toFixed(1) },
        },
        y: {
          type: 'logarithmic', min: 0.91, max: 1000, afterFit: fixW(252.5), afterBuildTicks: setTicks(bottomLogTicks),
          grid: { display: false }, border: { display: false },
          ticks: { font: tickFont, color: '#000', padding: 32, autoSkip: false, maxRotation: 0, callback: decadeLabel },
        },
      },
    } as any,
    plugins: [marks({
      major: 15, minor: 10, side: 'left', xLen: 15,
      texts: [
        { text: '#', x: 32, y: 1915 - offsetTop, font: `84px "${FONT}"`, rot: -Math.PI / 2 },
        { text: 'reduced amplitude', x: 1081, y: 2432 - offsetTop, font: '78px Lato' },
      ],
    })],
  } as any);
}

function makeRight(c: HTMLCanvasElement) {
  const ox = 2000;
  return new Chart(c, {
    type: 'scatter',
    data: {
      datasets: [
        stepSet(seriesLabels[0], chiSteps(chiRed), RED, 5, 'after'),
        stepSet(seriesLabels[1], chiSteps(chiOrange), ORANGE, 6, 'after'),
        stepSet(seriesLabels[2], chiSteps(chiBlue), BLUE, 3, 'after'),
        stepSet(seriesLabels[3], chiSteps(chiSky), SKY, 4, 'after'),
        stepSet(seriesLabels[4], chiSteps(chiGreen), GREEN, 1, 'after'),
        stepSet(seriesLabels[5], chiSteps(chiLime), LIME, 2, 'after'),
      ] as any,
    },
    options: {
      ...base,
      layout: { autoPadding: false, padding: { top: 12, right: 0, left: 72, bottom: 0 } },
      plugins: quiet,
      scales: {
        x: {
          type: 'linear', min: 0, max: 300, reverse: true, afterFit: fixH(251), afterBuildTicks: setTicks(countTicks),
          grid: { display: false }, border: { display: false },
          ticks: { font: tickFont, color: '#000', padding: 14, autoSkip: false, maxRotation: 0, callback: (v: any) => String(v) },
        },
        y: {
          type: 'logarithmic', position: 'right', min: 0.4, max: 200, afterFit: fixW(279), afterBuildTicks: setTicks(rightLogTicks),
          grid: { display: false }, border: { display: false },
          ticks: { font: tickFont, color: '#000', padding: 21, autoSkip: false, maxRotation: 0, callback: decadeLabel },
        },
      },
    } as any,
    plugins: [marks({
      major: 15, minor: 9, side: 'right', xLen: 15,
      texts: [
        { text: '#', x: 2498 - ox, y: 1606, font: `78px "${FONT}"` },
        { text: 'χ²', x: 3153 - ox, y: 725, font: `italic 90px "${FONT}"`, rot: -Math.PI / 2 },
      ],
    })],
  } as any);
}

export default function App() {
  const mainRef = useRef<HTMLCanvasElement>(null);
  const bottomRef = useRef<HTMLCanvasElement>(null);
  const rightRef = useRef<HTMLCanvasElement>(null);
  useEffect(() => {
    const charts = [makeMain(mainRef.current!), makeBottom(bottomRef.current!), makeRight(rightRef.current!)];
    return () => charts.forEach((c) => c.destroy());
  }, []);
  const pos = (left: number, top: number): React.CSSProperties => ({ position: 'absolute', left, top, display: 'block' });
  return (
    <div style={{ position: 'absolute', left: 0, top: 0, width: 3199, height: 2530, background: '#fff', overflow: 'hidden' }}>
      <canvas ref={bottomRef} width={2000} height={1000} style={pos(0, 1500)} />
      <canvas ref={mainRef} width={1800} height={1500} style={pos(200, 0)} />
      <canvas ref={rightRef} width={1199} height={1700} style={pos(2000, 0)} />
    </div>
  );
}
